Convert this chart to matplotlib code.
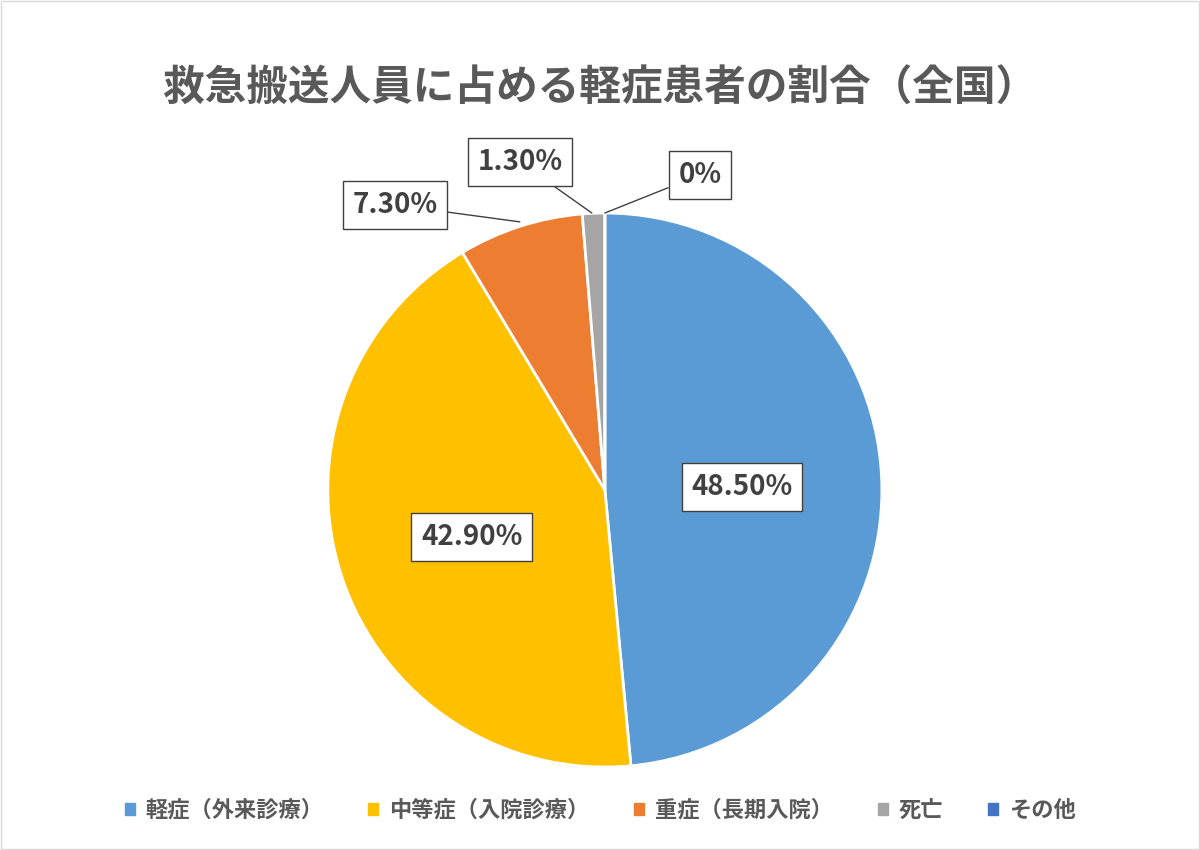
import matplotlib
matplotlib.use("Agg")
import matplotlib.pyplot as plt
import numpy as np

plt.rcParams["font.family"] = "Noto Sans CJK JP"

categories = ["軽症（外来診療）", "中等症（入院診療）", "重症（長期入院）", "死亡", "その他"]
values = [48.5, 42.9, 7.3, 1.3, 0.0]
labels = ["48.50%", "42.90%", "7.30%", "1.30%", "0%"]
colors = ["#5B9BD5", "#FFC000", "#ED7D31", "#A5A5A5", "#4472C4"]
title = "救急搬送人員に占める軽症患者の割合（全国）"

fig = plt.figure(figsize=(12, 8.5), dpi=100)
fig.patches.append(plt.Rectangle((0.0008, 0.0012), 0.9984, 0.9976, transform=fig.transFigure,
                                 fill=False, edgecolor="#D9D9D9", lw=1))
ax = fig.add_axes([0.504 - 0.2308, 0.4235 - 0.326, 0.4617, 0.652])
wedges, _ = ax.pie(values, colors=colors, startangle=90, counterclock=False,
                   wedgeprops=dict(edgecolor="white", linewidth=2), radius=1.0)
ax.set_xlim(-1, 1); ax.set_ylim(-1, 1); ax.set_aspect("equal")
ax.set_clip_on(False)

label_pos = [(0.495, 0.011), (-0.48, -0.17), (-0.758, 1.029), (-0.307, 1.184), (0.343, 1.137)]
leader = [False, False, True, True, True]
edge_pts = {2: (-0.307, 0.968), 3: (-0.047, 1.0), 4: (0.0, 1.0)}
bbox = dict(boxstyle="square,pad=0.35", fc="white", ec="#404040", lw=1)
for i, (lab, pos) in enumerate(zip(labels, label_pos)):
    if leader[i]:
        ax.annotate(lab, xy=edge_pts[i], xytext=pos, ha="center", va="center",
                    fontsize=20, fontweight="bold", color="#404040", bbox=bbox,
                    arrowprops=dict(arrowstyle="-", color="#404040", lw=1,
                                    shrinkA=0, shrinkB=0), annotation_clip=False)
    else:
        ax.text(pos[0], pos[1], lab, ha="center", va="center", fontsize=20,
                fontweight="bold", color="#404040", bbox=bbox)

fig.text(0.5, 0.896, title, ha="center", va="center", fontsize=30,
         fontweight="bold", color="#595959")

handles = [plt.Rectangle((0, 0), 1, 1, color=c) for c in colors]
fig.legend(handles, categories, loc="center", bbox_to_anchor=(0.5, 0.047), ncol=5,
           frameon=False, handlelength=0.45, handleheight=0.45,
           columnspacing=2.0, handletextpad=0.5,
           prop={"weight": "bold", "size": 16})
for t in fig.legends[0].get_texts():
    t.set_color("#595959")

fig.savefig("out.png", dpi=100)
